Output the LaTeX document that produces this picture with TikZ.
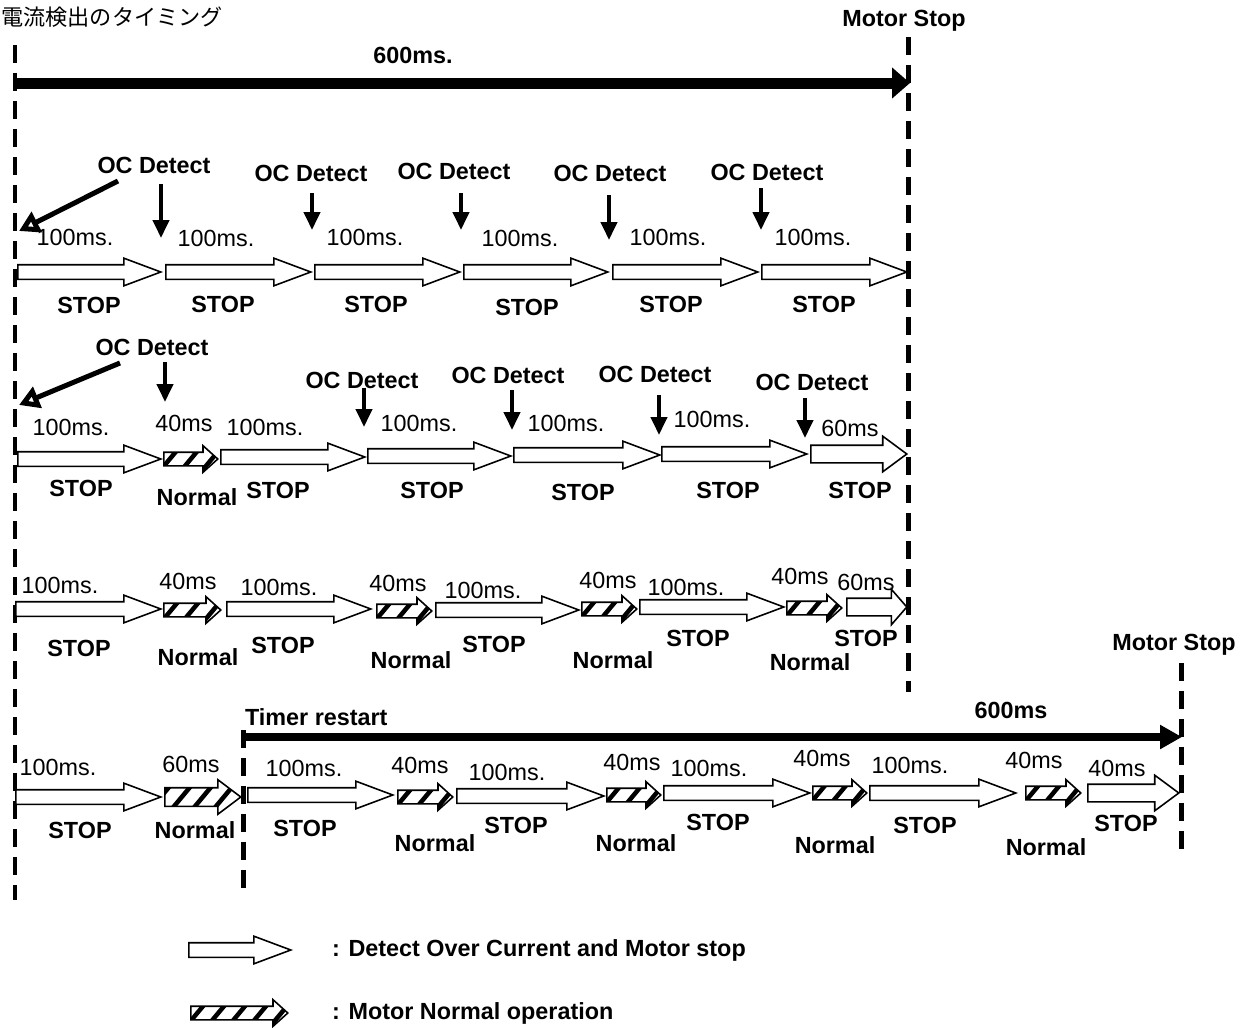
\documentclass[tikz,border=0pt]{standalone}
\usepackage{fontspec}
\setmainfont{Liberation Sans}
\newfontfamily\jpfont{Noto Sans CJK JP}
\usepackage{tikz}
\usetikzlibrary{arrows.meta,shapes.arrows}

\tikzset{
  lbl/.style={font=\fontsize{13.3}{16}\selectfont, inner sep=1pt},
  blbl/.style={font=\fontsize{13.3}{16}\selectfont\bfseries, inner sep=1pt},
  stoparr/.style={single arrow, draw=black, fill=white, line width=0.9pt, inner xsep=0pt, inner ysep=0.13cm, anchor=tail,
    minimum width=0.52cm, single arrow head extend=0.13cm, single arrow tip angle=41},
  bigstop/.style={stoparr, inner ysep=0.16cm, minimum width=0.68cm, single arrow head extend=0.18cm, single arrow tip angle=73},
  shortstop/.style={bigstop, single arrow tip angle=98},
  normarr/.style={single arrow, draw=black, fill=white, line width=0.9pt, inner xsep=0pt, inner ysep=0.12cm, anchor=tail,
    minimum width=0.5cm, single arrow head extend=0.13cm, single arrow tip angle=84,
    path picture={\foreach \k in {-7,...,7}
      \draw[line width=0.09cm] ([shift={(\k*0.42cm-0.25cm,-0.3cm)}]path picture bounding box.center) -- ++(0.5cm,0.6cm);}},
  bignorm/.style={normarr, inner ysep=0.17cm, minimum width=0.66cm, single arrow head extend=0.16cm, single arrow tip angle=74},
  dashline/.style={line width=0.1cm, dash pattern=on 0.36cm off 0.2cm},
  bigbar/.style={line width=0.22cm, -{Triangle[length=0.36cm, width=0.6cm]}},
  timebar/.style={line width=0.16cm, -{Triangle[length=0.44cm, width=0.46cm]}},
  dnarr/.style={line width=0.08cm, -{Triangle[length=0.36cm, width=0.32cm]}},
  diagarr/.style={line width=0.1cm, -{Triangle[open, length=0.4cm, width=0.44cm]}}
}

\begin{document}
\begin{tikzpicture}[x=0.02cm, y=-0.02cm]
\useasboundingbox (0,0) rectangle (1249,1028);

% title and time bars
\node[font=\jpfont\fontsize{12.6}{16}\selectfont, anchor=west, inner sep=0pt] (title) at (1,17) {電流検出のタイミング};
\node[blbl] (stop1) at (904,21) {Motor Stop};
\node[blbl] (total1) at (413,55) {600ms.};
\coordinate (b1s) at (13,83);
\coordinate (b1e) at (910,83);
\draw[bigbar] (b1s) -- (b1e);
\node[blbl] (stop2) at (1174,645) {Motor Stop};
\node[blbl] (total2) at (1011,710) {600ms};
\node[blbl, anchor=west] (restart) at (243,717) {Timer restart};
\coordinate (b2s) at (241,737);
\coordinate (b2e) at (1182,737);
\draw[timebar] (b2s) -- (b2e);

% dashed markers
\draw[dashline] (15,45) -- (15,900);
\draw[dashline] (908,37) -- (908,692);
\draw[dashline] (1181,663) -- (1181,851);
\draw[dashline] (243,730) -- (243,892);

% row 1
\foreach \i/\a/\b in {1/17/160,2/165/310,3/314/459,4/463/607,5/612/757,6/761/906}
  \node[stoparr, minimum height={(\b-\a)*0.02cm}] (a1-\i) at (\a,272) {};
\foreach \i/\x/\y in {1/75/237,2/216/238,3/365/237,4/520/238,5/668/237,6/813/237}
  \node[lbl] (t1-\i) at (\x,\y) {100ms.};
\foreach \i/\x/\y in {1/89/305,2/223/304,3/376/304,4/527/307,5/671/304,6/824/304}
  \node[blbl] (s1-\i) at (\x,\y) {STOP};
\foreach \i/\x/\y in {1/154/165,2/311/173,3/454/171,4/610/173,5/767/172}
  \node[blbl] (oc1-\i) at (\x,\y) {OC Detect};
\foreach \i/\x/\ya/\yb in {1/161/184/238,2/312/193/230,3/461/193/230,4/609/195/240,5/761/188/230} {
  \coordinate (d1-\i) at (\x,\ya);
  \coordinate (e1-\i) at (\x,\yb);
  \draw[dnarr] (d1-\i) -- (e1-\i);
}
\coordinate (g1s) at (118,181);
\coordinate (g1e) at (19,231);
\draw[diagarr] (g1s) -- (g1e);

% row 2
\foreach \i/\st/\a/\b/\y in {1/stoparr/17/160/459,2/normarr/163/217/459,3/stoparr/220/364/457,
    4/stoparr/367/510/456,5/stoparr/513/659/455,6/stoparr/661/806/454,7/bigstop/810/906/454}
  \node[\st, minimum height={(\b-\a)*0.02cm}] (a2-\i) at (\a,\y) {};
\foreach \i/\x/\y/\t in {1/71/427/100ms.,2/184/423/40ms,3/265/427/100ms.,4/419/423/100ms.,
    5/566/423/100ms.,6/712/419/100ms.,7/850/428/60ms}
  \node[lbl] (t2-\i) at (\x,\y) {\t};
\foreach \i/\x/\y/\t in {1/81/488/STOP,2/197/497/Normal,3/278/490/STOP,4/432/490/STOP,
    5/583/492/STOP,6/728/490/STOP,7/860/490/STOP}
  \node[blbl] (s2-\i) at (\x,\y) {\t};
\foreach \i/\x/\y in {1/152/347,2/362/380,3/508/375,4/655/374,5/812/382}
  \node[blbl] (oc2-\i) at (\x,\y) {OC Detect};
\foreach \i/\x/\ya/\yb in {1/165/362/402,2/364/388/427,3/512/390/430,4/659/395/435,5/805/398/438} {
  \coordinate (d2-\i) at (\x,\ya);
  \coordinate (e2-\i) at (\x,\yb);
  \draw[dnarr] (d2-\i) -- (e2-\i);
}
\coordinate (g2s) at (120,363);
\coordinate (g2e) at (19,405);
\draw[diagarr] (g2s) -- (g2e);

% row 3
\foreach \i/\st/\a/\b/\y in {1/stoparr/15/160/609,2/normarr/163/220/610,3/stoparr/226/370/609,
    4/normarr/376/431/611,5/stoparr/435/578/610,6/normarr/581/636/609,7/stoparr/639/783/607,
    8/normarr/786/841/608,9/shortstop/846/906/607}
  \node[\st, minimum height={(\b-\a)*0.02cm}] (a3-\i) at (\a,\y) {};
\foreach \i/\x/\y/\t in {1/60/585/100ms.,2/188/581/40ms,3/279/587/100ms.,4/398/583/40ms,
    5/483/590/100ms.,6/608/580/40ms,7/686/587/100ms.,8/800/576/40ms,9/866/582/60ms}
  \node[lbl] (t3-\i) at (\x,\y) {\t};
\foreach \i/\x/\y/\t in {1/79/648/STOP,2/198/657/Normal,3/283/645/STOP,4/411/660/Normal,
    5/494/644/STOP,6/613/660/Normal,7/698/638/STOP,8/810/662/Normal,9/866/638/STOP}
  \node[blbl] (s3-\i) at (\x,\y) {\t};

% row 4
\foreach \i/\st/\a/\b/\y in {1/stoparr/15/160/797,2/bignorm/164/240/797,3/stoparr/247/392/795,
    4/normarr/397/452/797,5/stoparr/456/603/796,6/normarr/606/660/795,7/stoparr/663/809/793,
    8/normarr/812/866/793,9/stoparr/869/1015/793,10/normarr/1025/1080/793,11/bigstop/1087/1178/793}
  \node[\st, minimum height={(\b-\a)*0.02cm}] (a4-\i) at (\a,\y) {};
\foreach \i/\x/\y/\t in {1/58/767/100ms.,2/191/764/60ms,3/304/768/100ms.,4/420/765/40ms,
    5/507/772/100ms.,6/632/762/40ms,7/709/768/100ms.,8/822/758/40ms,9/910/765/100ms.,
    10/1034/760/40ms,11/1117/768/40ms}
  \node[lbl] (t4-\i) at (\x,\y) {\t};
\foreach \i/\x/\y/\t in {1/80/830/STOP,2/195/830/Normal,3/305/828/STOP,4/435/843/Normal,
    5/516/825/STOP,6/636/843/Normal,7/718/822/STOP,8/835/845/Normal,9/925/825/STOP,
    10/1046/847/Normal,11/1126/823/STOP}
  \node[blbl] (s4-\i) at (\x,\y) {\t};

% legend
\node[stoparr, minimum height={102*0.02cm}] (key1) at (188,950) {};
\node[blbl, anchor=west] (keytext1) at (330,950) {: Detect Over Current and Motor stop};
\node[normarr, minimum height={97*0.02cm}] (key2) at (190,1013) {};
\node[blbl, anchor=west] (keytext2) at (330,1013) {: Motor Normal operation};

\end{tikzpicture}
\end{document}
